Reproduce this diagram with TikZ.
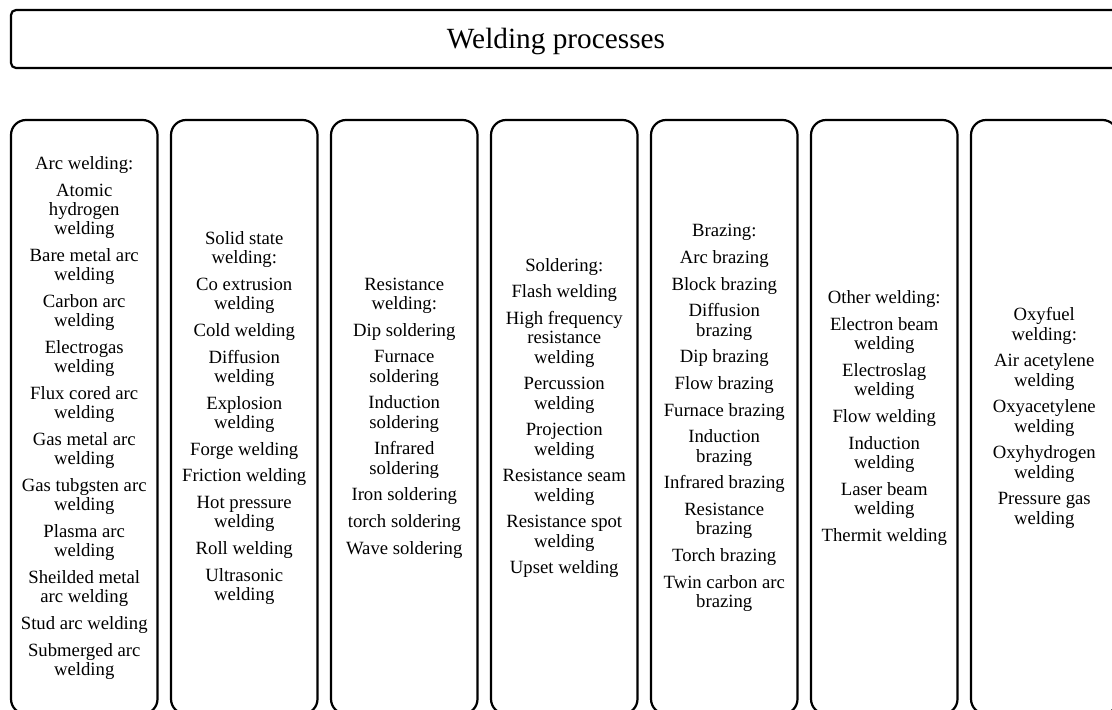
\documentclass[tikz,border=0pt]{standalone}
\usepackage{fontspec}
\setmainfont{Liberation Serif}
\begin{document}
\begin{tikzpicture}[x=1pt,y=-1pt,
  frame/.style={draw=black,line width=2.2pt,rounded corners=5pt},
  colframe/.style={draw=black,line width=2.2pt,rounded corners=15pt},
  titletext/.style={inner sep=0pt,font=\fontsize{29.3}{30}\selectfont},
  listtext/.style={inner sep=0pt,align=center,font=\fontsize{18.7}{19.3}\selectfont}]
\clip (0,0) rectangle (1112,710);

% header
\draw[frame] (11,10) rectangle (1120,68);
\node[titletext] (title) at (556,41) {Welding processes};

% the seven category columns
\foreach \k in {0,...,6}{
  \draw[colframe] ({11+160*\k},120) rectangle ({157.5+160*\k},714);
}

\node[listtext] (arc) at (84.25,418) {Arc welding:\\[7.4pt]
Atomic\\hydrogen\\welding\\[7.4pt]
Bare metal arc\\welding\\[7.4pt]
Carbon arc\\welding\\[7.4pt]
Electrogas\\welding\\[7.4pt]
Flux cored arc\\welding\\[7.4pt]
Gas metal arc\\welding\\[7.4pt]
Gas tubgsten arc\\welding\\[7.4pt]
Plasma arc\\welding\\[7.4pt]
Sheilded metal\\arc welding\\[7.4pt]
Stud arc welding\\[7.4pt]
Submerged arc\\welding};

\node[listtext] (solid) at (244.25,418) {Solid state\\welding:\\[7.4pt]
Co extrusion\\welding\\[7.4pt]
Cold welding\\[7.4pt]
Diffusion\\welding\\[7.4pt]
Explosion\\welding\\[7.4pt]
Forge welding\\[7.4pt]
Friction welding\\[7.4pt]
Hot pressure\\welding\\[7.4pt]
Roll welding\\[7.4pt]
Ultrasonic\\welding};

\node[listtext] (resist) at (404.25,418) {Resistance\\welding:\\[7.4pt]
Dip soldering\\[7.4pt]
Furnace\\soldering\\[7.4pt]
Induction\\soldering\\[7.4pt]
Infrared\\soldering\\[7.4pt]
Iron soldering\\[7.4pt]
torch soldering\\[7.4pt]
Wave soldering};

\node[listtext] (solder) at (564.25,418) {Soldering:\\[7.4pt]
Flash welding\\[7.4pt]
High frequency\\resistance\\welding\\[7.4pt]
Percussion\\welding\\[7.4pt]
Projection\\welding\\[7.4pt]
Resistance seam\\welding\\[7.4pt]
Resistance spot\\welding\\[7.4pt]
Upset welding};

\node[listtext] (braze) at (724.25,418) {Brazing:\\[7.4pt]
Arc brazing\\[7.4pt]
Block brazing\\[7.4pt]
Diffusion\\brazing\\[7.4pt]
Dip brazing\\[7.4pt]
Flow brazing\\[7.4pt]
Furnace brazing\\[7.4pt]
Induction\\brazing\\[7.4pt]
Infrared brazing\\[7.4pt]
Resistance\\brazing\\[7.4pt]
Torch brazing\\[7.4pt]
Twin carbon arc\\brazing};

\node[listtext] (other) at (884.25,418) {Other welding:\\[7.4pt]
Electron beam\\welding\\[7.4pt]
Electroslag\\welding\\[7.4pt]
Flow welding\\[7.4pt]
Induction\\welding\\[7.4pt]
Laser beam\\welding\\[7.4pt]
Thermit welding};

\node[listtext] (oxy) at (1044.25,418) {Oxyfuel\\welding:\\[7.4pt]
Air acetylene\\welding\\[7.4pt]
Oxyacetylene\\welding\\[7.4pt]
Oxyhydrogen\\welding\\[7.4pt]
Pressure gas\\welding};
\end{tikzpicture}
\end{document}
